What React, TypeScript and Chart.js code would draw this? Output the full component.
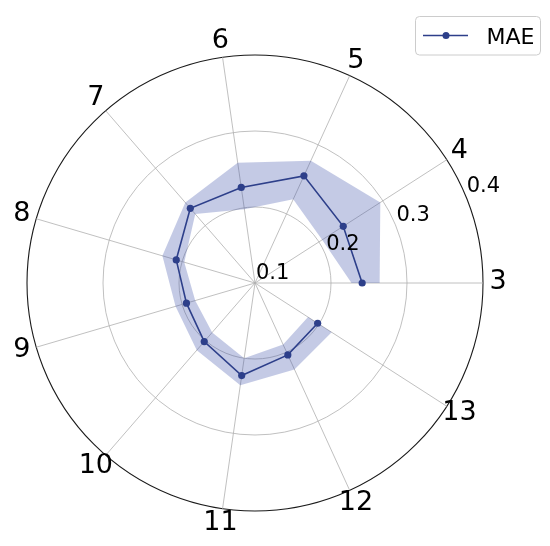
import React, { useEffect, useRef } from 'react';
import { Chart, registerables } from 'chart.js';

Chart.register(...registerables);

// ---- data (natural order, counter-clockwise from east) ----
const categories = ['3', '4', '5', '6', '7', '8', '9', '10', '11', '12', '13'];
const maeValues = [0.241, 0.238, 0.255, 0.227, 0.23, 0.208, 0.194, 0.202, 0.223, 0.204, 0.198];
const upperValues = [0.264, 0.296, 0.277, 0.26, 0.24, 0.227, 0.209, 0.217, 0.236, 0.225, 0.22];
const lowerValues = [0.227, 0.205, 0.221, 0.198, 0.22, 0.197, 0.182, 0.186, 0.2, 0.189, 0.183];
const radialTicks = [0.1, 0.2, 0.3, 0.4];
const seriesName = 'MAE';

const LINE_COLOR = '#2d3f8a';
const BAND_COLOR = 'rgba(60, 80, 170, 0.3)';
const GRID_COLOR = '#b0b0b0';
const FONT = '"DejaVu Sans", Verdana, sans-serif';

// Chart.js lays categories clockwise; reverse so they read counter-clockwise,
// and add a trailing gap so the path is left open between the last and first category.
const clockwise = <T,>(arr: T[]): T[] => [...arr].reverse();
const openPath = (arr: number[]) => [...clockwise(arr), null];

const textPlugin = {
  id: 'polarText',
  afterDraw(chart: any) {
    const ctx: CanvasRenderingContext2D = chart.ctx;
    const scale = chart.scales.r;
    const labels: string[] = chart.data.labels;
    ctx.save();

    // category labels, centered outside the outer circle
    ctx.font = `27px ${FONT}`;
    ctx.fillStyle = '#000';
    ctx.textAlign = 'center';
    ctx.textBaseline = 'middle';
    labels.forEach((lab, i) => {
      const p = scale.getPointPosition(i, scale.drawingArea + 15);
      ctx.fillText(lab, p.x, p.y - 1);
    });

    // radial tick labels along 22.5 degrees
    ctx.font = `21px ${FONT}`;
    ctx.textAlign = 'left';
    ctx.textBaseline = 'alphabetic';
    const a = (22.5 * Math.PI) / 180;
    radialTicks.forEach((v) => {
      const d = scale.getDistanceFromCenterForValue(v);
      const x = scale.xCenter + d * Math.cos(a);
      const y = scale.yCenter - d * Math.sin(a);
      ctx.fillText(String(v), x + 1, y - 4);
    });

    // legend box
    const bx = chart.width - 134.5;
    const by = 16.5;
    const bw = 125;
    const bh = 38.5;
    ctx.beginPath();
    ctx.roundRect(bx, by, bw, bh, 4);
    ctx.fillStyle = 'rgba(255,255,255,0.8)';
    ctx.fill();
    ctx.strokeStyle = '#cccccc';
    ctx.lineWidth = 1;
    ctx.stroke();
    const ly = by + 19;
    ctx.beginPath();
    ctx.moveTo(bx + 7.5, ly);
    ctx.lineTo(bx + 52.5, ly);
    ctx.strokeStyle = LINE_COLOR;
    ctx.lineWidth = 1.5;
    ctx.stroke();
    ctx.beginPath();
    ctx.arc(bx + 30.5, ly, 3.5, 0, Math.PI * 2);
    ctx.fillStyle = LINE_COLOR;
    ctx.fill();
    ctx.font = `22px ${FONT}`;
    ctx.fillStyle = '#000';
    ctx.textAlign = 'left';
    ctx.textBaseline = 'alphabetic';
    ctx.fillText(seriesName, bx + 71, by + 27);

    ctx.restore();
  },
};

export default function App() {
  const ref = useRef<HTMLCanvasElement | null>(null);

  useEffect(() => {
    if (!ref.current) return;
    const n = categories.length;
    const chart = new Chart(ref.current, {
      type: 'radar',
      data: {
        labels: clockwise(categories),
        datasets: [
          {
            label: seriesName,
            data: openPath(maeValues),
            borderColor: LINE_COLOR,
            backgroundColor: LINE_COLOR,
            borderWidth: 1.6,
            pointRadius: 3.6,
            pointBackgroundColor: LINE_COLOR,
            pointBorderColor: LINE_COLOR,
            pointBorderWidth: 0,
            fill: false,
            spanGaps: false,
          },
          {
            label: 'upper',
            data: openPath(upperValues),
            borderWidth: 0,
            pointRadius: 0,
            backgroundColor: BAND_COLOR,
            borderColor: 'rgba(0,0,0,0)',
            fill: '+1',
            spanGaps: false,
          },
          {
            label: 'lower',
            data: openPath(lowerValues),
            borderWidth: 0,
            pointRadius: 0,
            backgroundColor: 'rgba(0,0,0,0)',
            borderColor: 'rgba(0,0,0,0)',
            fill: false,
            spanGaps: false,
          },
        ],
      } as any,
      options: {
        animation: false,
        responsive: false,
        events: [],
        layout: { padding: { left: 27, top: 55, right: 67, bottom: 35 } },
        elements: { line: { tension: 0 } },
        plugins: {
          legend: { display: false },
          tooltip: { enabled: false },
        },
        scales: {
          r: {
            min: radialTicks[0],
            max: radialTicks[radialTicks.length - 1],
            startAngle: 90 + 360 / n,
            ticks: { display: false, stepSize: 0.1 },
            pointLabels: { display: false },
            grid: {
              circular: true,
              color: (c: any) => (c.tick && c.tick.value > 0.35 ? '#1a1a1a' : GRID_COLOR),
              lineWidth: (c: any) => (c.tick && c.tick.value > 0.35 ? 1.1 : 0.8),
            },
            angleLines: { color: GRID_COLOR, lineWidth: 0.8 },
          },
        },
      } as any,
      plugins: [textPlugin],
    });
    return () => chart.destroy();
  }, []);

  return (
    <div style={{ position: 'fixed', left: 0, top: 0, width: 550, height: 546, background: '#fff' }}>
      <canvas ref={ref} width={550} height={546} style={{ display: 'block' }} />
    </div>
  );
}
